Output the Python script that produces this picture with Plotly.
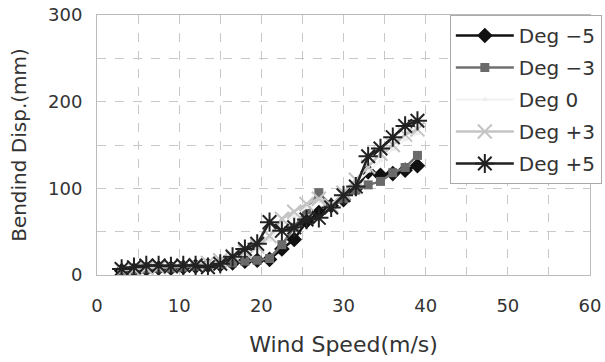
import plotly.graph_objects as go

wind = [3, 4.5, 6, 7.5, 9, 10.5, 12, 13.5, 15, 16.5, 18, 19.5, 21, 22.5, 24, 25.5, 27, 28.5, 30, 31.5, 33, 34.5, 36, 37.5, 39]

deg_m5 = [5, 6, 7, 8, 8, 9, 10, 11, 12, 14, 16, 17, 18, 30, 41, 62, 72, 80, 87, 100, 119, 115, 117, 121, 126]
deg_m3 = [5, 6, 7, 8, 8, 9, 10, 11, 12, 14, 16, 17, 19, 35, 55, 75, 95, 80, 88, 98, 104, 108, 118, 124, 138]
deg_0 = [6, 7, 8, 9, 9, 10, 11, 13, 15, 19, 24, 30, 40, 58, 68, 78, 85, 82, 93, 106, 120, 132, 145, 156, 163]
deg_p3 = [6, 7, 8, 9, 10, 11, 12, 14, 17, 22, 27, 33, 45, 65, 73, 82, 88, 80, 95, 110, 125, 140, 150, 162, 168]
deg_p5 = [7, 9, 11, 11, 10, 11, 11, 9, 13, 21, 30, 36, 61, 51, 55, 64, 66, 78, 92, 102, 137, 146, 159, 172, 178]

x_ticks = [0, 10, 20, 30, 40, 50, 60]
y_ticks = [0, 100, 200, 300]

fig = go.Figure()
fig.add_trace(go.Scatter(x=wind, y=deg_m5, name="Deg \u22125", mode="lines+markers", legendgroup="a",
                         line=dict(color="#111111", width=2.5),
                         marker=dict(symbol="diamond", size=12, color="#111111")))
fig.add_trace(go.Scatter(x=wind, y=deg_m3, name="Deg \u22123", mode="lines+markers", legendgroup="b",
                         line=dict(color="#707070", width=2.5),
                         marker=dict(symbol="square", size=9, color="#6a6a6a")))
fig.add_trace(go.Scatter(x=wind, y=deg_0, name="Deg 0", mode="lines+markers", legendgroup="c",
                         line=dict(color="#f2f2f2", width=2),
                         marker=dict(symbol="triangle-up", size=6, color="#ededed")))
fig.add_trace(go.Scatter(x=wind, y=deg_p3, name="Deg +3", mode="lines+markers", legendgroup="d",
                         line=dict(color="#c4c4c4", width=2.5),
                         marker=dict(symbol="x-thin-open", size=14, line=dict(width=2, color="#bcbcbc"))))
fig.add_trace(go.Scatter(x=wind, y=deg_p5, name="Deg +5", mode="lines+markers", legendgroup="e",
                         line=dict(color="#222222", width=2.5),
                         marker=dict(symbol="asterisk-open", size=16, line=dict(width=2, color="#1a1a1a"))))

font_family = "DejaVu Sans, sans-serif"

fig.update_layout(
    width=605, height=362,
    margin=dict(l=97, r=15, t=15, b=87, autoexpand=False),
    paper_bgcolor="white", plot_bgcolor="white",
    font=dict(family=font_family, size=18, color="#333333"),
    showlegend=True,
    legend=dict(x=1.024, y=1.0, xanchor="right", yanchor="top",
                bgcolor="white", bordercolor="#aaaaaa", borderwidth=1,
                font=dict(size=20, color="#333333"), itemwidth=58,
                tracegroupgap=3),
    xaxis=dict(range=[0, 60], tickvals=x_ticks, ticktext=[str(v) for v in x_ticks],
               showgrid=True, gridcolor="#c8c8c8", griddash="dash", gridwidth=1,
               minor=dict(dtick=5, showgrid=True, gridcolor="#c8c8c8", griddash="dash"),
               showline=True, linecolor="#bbbbbb", mirror=True, zeroline=False, automargin=False,
               ticks="", ticklabelstandoff=14, tickfont=dict(size=18, color="#333333"),
               title=dict(text="Wind Speed(m/s)", font=dict(size=22, color="#333333"), standoff=22)),
    yaxis=dict(range=[0, 300], tickvals=y_ticks, ticktext=[str(v) for v in y_ticks],
               showgrid=True, gridcolor="#c8c8c8", griddash="dash", gridwidth=1,
               minor=dict(dtick=50, showgrid=True, gridcolor="#c8c8c8", griddash="dash"),
               showline=True, linecolor="#bbbbbb", mirror=True, zeroline=False, automargin=False,
               ticks="", ticklabelstandoff=10, tickfont=dict(size=18, color="#333333"),
               title=dict(text="Bendind Disp.(mm)", font=dict(size=20, color="#333333"), standoff=16)),
)

fig.write_html("out.html")
